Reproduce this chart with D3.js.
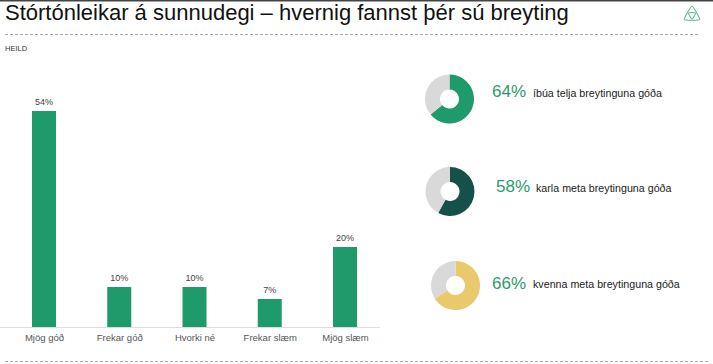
<!DOCTYPE html>
<html><head><meta charset="utf-8">
<script src="https://cdn.jsdelivr.net/npm/d3@7"></script>
<style>body{margin:0;background:#fff;}svg{display:block;font-family:"Liberation Sans",Arial,sans-serif;}</style>
</head><body>
<svg id="c" width="713" height="364"></svg>
<script>
const title = "Stórtónleikar á sunnudegi – hvernig fannst þér sú breyting";
const subtitle = "HEILD";
const categories = ["Mjög góð", "Frekar góð", "Hvorki né", "Frekar slæm", "Mjög slæm"];
const values = [54, 10, 10, 7, 20];
const donutValues = [64, 58, 66];
const donutLabels = ["íbúa telja breytinguna góða", "karla meta breytinguna góða", "kvenna meta breytinguna góða"];
const donutColors = ["#1f9a6b", "#174f49", "#e9c96c"];

const svg = d3.select("#c");
// top border
svg.append("rect").attr("x",0).attr("y",0).attr("width",713).attr("height",1.5).attr("fill","#444");
svg.append("text").attr("x",5).attr("y",19.5).attr("font-size",22).attr("fill","#111").text(title);
svg.append("line").attr("x1",5).attr("x2",700).attr("y1",34.5).attr("y2",34.5)
  .attr("stroke","#aaa").attr("stroke-dasharray","3,2").attr("stroke-width",1);
svg.append("text").attr("x",5).attr("y",50.5).attr("font-size",7.5).attr("fill","#333").text(subtitle);
svg.append("line").attr("x1",5).attr("x2",710).attr("y1",361.5).attr("y2",361.5)
  .attr("stroke","#aaa").attr("stroke-dasharray","3,2").attr("stroke-width",1);

// logo: triangular knot
const logo = svg.append("g").attr("transform","translate(692,15)").attr("fill","none")
  .attr("stroke","#5cb98c").attr("stroke-width",1.1).attr("stroke-linejoin","round");
const tri = (r) => d3.range(3).map(i => {
  const a = -Math.PI/2 + i*2*Math.PI/3; return [r*Math.cos(a), r*Math.sin(a)];
});
const outer = tri(9);
logo.append("path").attr("d", d3.line().curve(d3.curveCardinalClosed.tension(0.6))(outer));
const inner = tri(4).map(([px,py]) => [-px, -py]);
logo.append("path").attr("d", d3.line().curve(d3.curveCardinalClosed.tension(0.3))(inner));

// bar chart
const x = d3.scalePoint().domain(categories).range([44, 345]);
const y = d3.scaleLinear().domain([0, 54]).range([327, 111]);
const bw = 24;
const g = svg.append("g");
g.append("line").attr("x1",0).attr("x2",380).attr("y1",327.5).attr("y2",327.5).attr("stroke","#ddd");
g.selectAll("rect.bar").data(values).join("rect").attr("class","bar")
  .attr("x",(d,i)=>x(categories[i])-bw/2).attr("width",bw)
  .attr("y",d=>y(d)).attr("height",d=>y(0)-y(d)).attr("fill","#1f9a6b");
g.selectAll("text.val").data(values).join("text").attr("class","val")
  .attr("x",(d,i)=>x(categories[i])).attr("y",d=>y(d)-6)
  .attr("text-anchor","middle").attr("font-size",9).attr("fill","#444").text(d=>d+"%");
const xAxis = d3.axisBottom(x).tickSize(0).tickPadding(7);
const ax = g.append("g").attr("transform","translate(0,327)").call(xAxis);
ax.select(".domain").remove();
ax.selectAll("text").attr("font-size",9.5).attr("fill","#555").attr("font-family","Liberation Sans, Arial, sans-serif");

// donuts
const centers = [[449.5,99],[450,191.5],[455.5,285.5]];
const textX = [[492,533],[496,536],[492,533]];
const baselines = [97, 192, 288.5];
const pie = d3.pie().sort(null).value(d=>d);
const arc = d3.arc().innerRadius(9.5).outerRadius(24.5);
donutValues.forEach((v,i)=>{
  const dg = svg.append("g").attr("transform",`translate(${centers[i][0]},${centers[i][1]})`);
  dg.selectAll("path").data(pie([v,100-v])).join("path").attr("d",arc)
    .attr("fill",(d,j)=> j===0 ? donutColors[i] : "#d9d9d9");
  const by = baselines[i];
  svg.append("text").attr("x",textX[i][0]).attr("y",by).attr("font-size",17).attr("fill","#2a9a6e").text(v+"%");
  svg.append("text").attr("x",textX[i][1]).attr("y",by-0.5).attr("font-size",10.7).attr("fill","#222").text(donutLabels[i]);
});
</script>
</body></html>
